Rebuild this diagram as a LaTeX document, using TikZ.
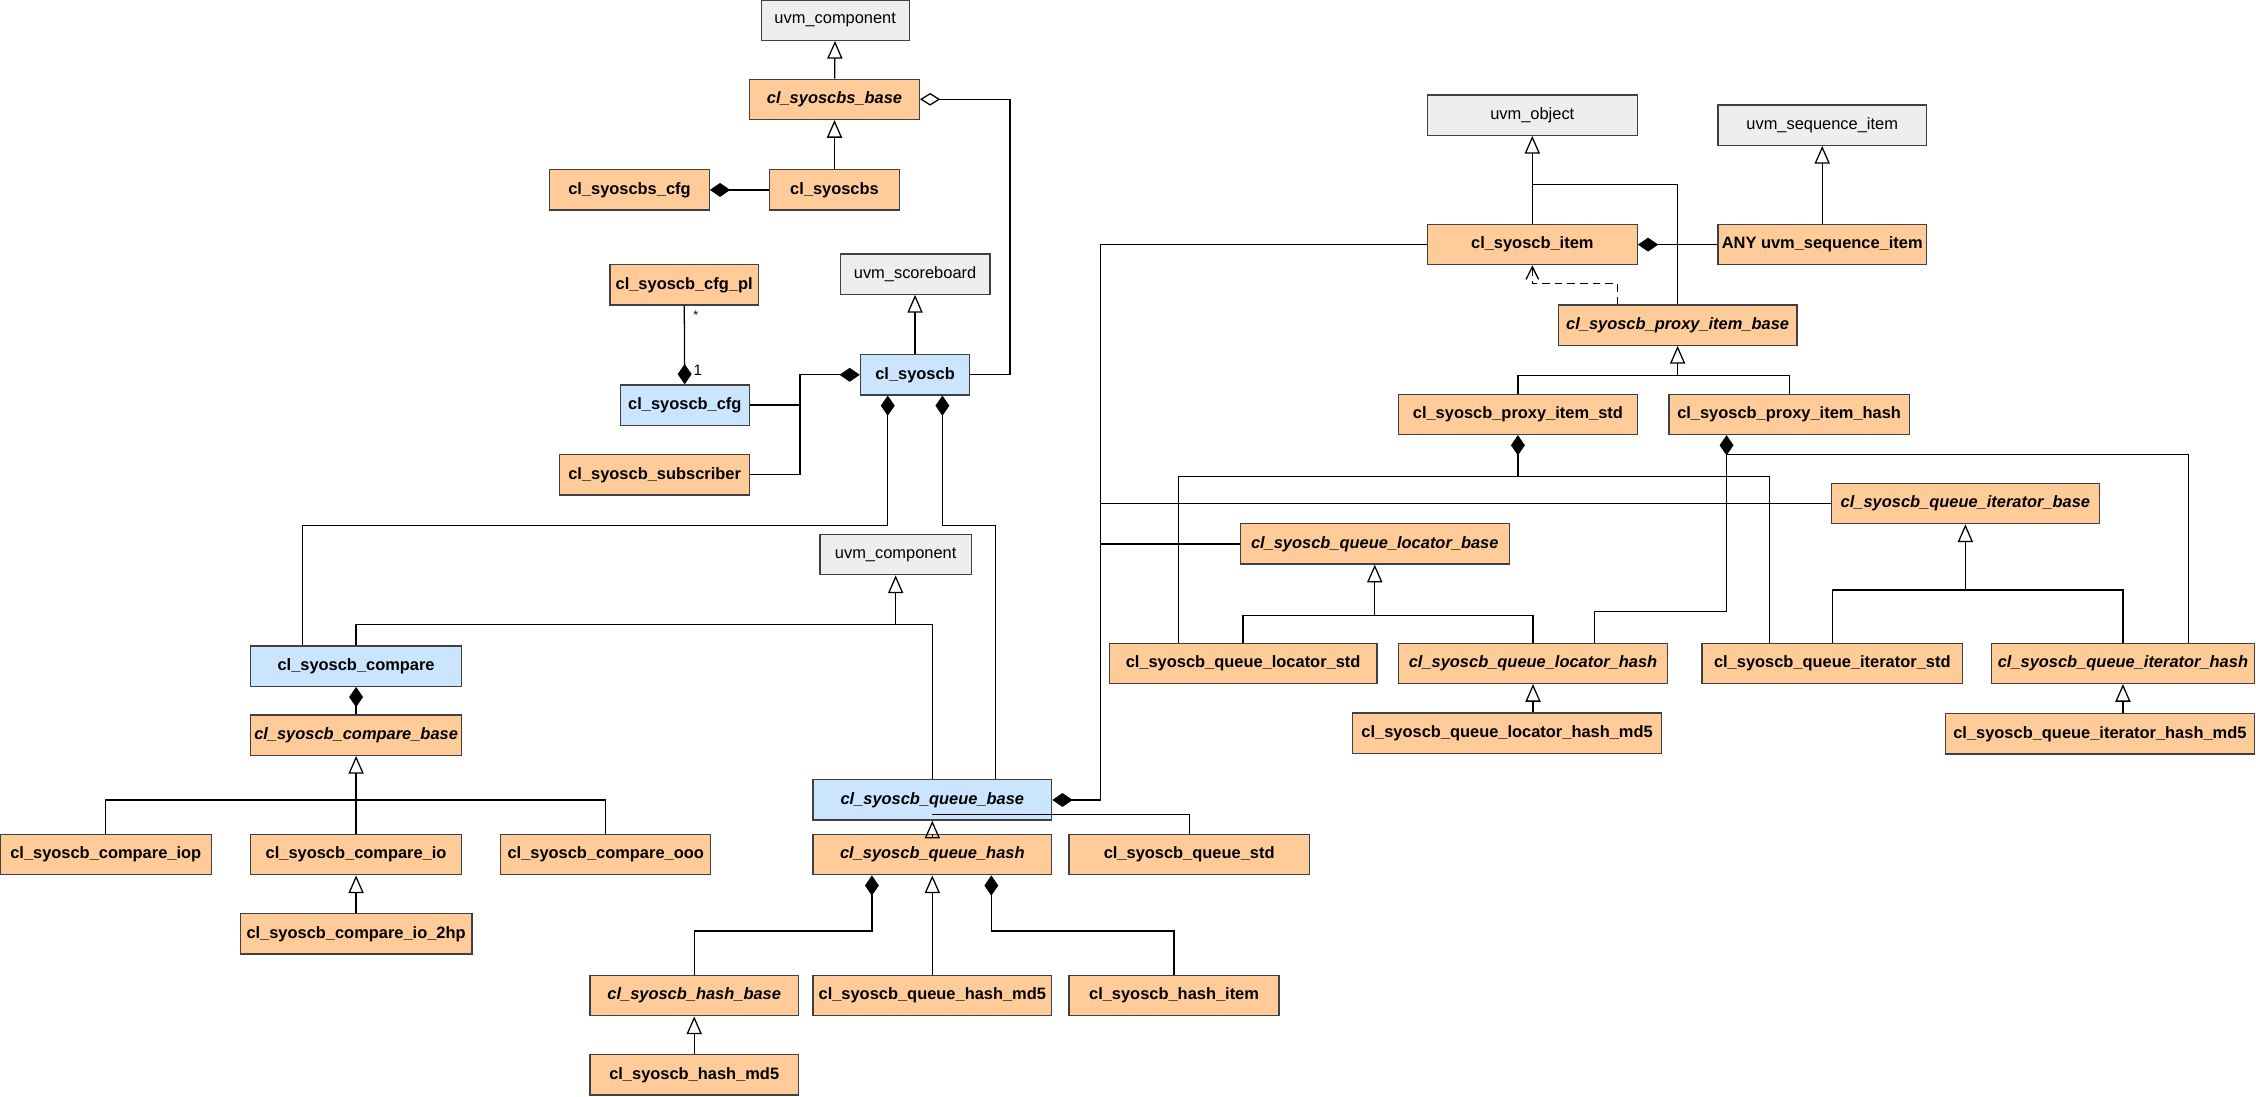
\documentclass[tikz,border=0pt]{standalone}
\usepackage{fontspec}
\setmainfont{Liberation Sans}
\usetikzlibrary{arrows.meta,calc}
\definecolor{clsorange}{HTML}{FFCC99}
\definecolor{clsblue}{HTML}{CCE5FF}
\definecolor{clsgray}{HTML}{EEEEEE}
\tikzset{
  cls/.style={draw=black!75, minimum height=0.56cm, inner sep=1pt,
    font=\fontsize{6.5pt}{8pt}\selectfont\bfseries},
  org/.style={cls, fill=clsorange},
  blu/.style={cls, fill=clsblue},
  gry/.style={cls, fill=clsgray, font=\fontsize{6.5pt}{8pt}\selectfont},
  abs/.style={font=\fontsize{6.5pt}{8pt}\selectfont\bfseries\itshape},
  inh/.style={-{Triangle[open,length=7pt,width=6pt]}},
  comp/.style={-{Diamond[length=8pt,width=5.5pt]}},
  agg/.style={-{Diamond[open,length=8pt,width=5pt]}},
  dep/.style={densely dashed,-{Straight Barb[length=5pt,width=5pt]}},
}
\begin{document}
\begin{tikzpicture}[x=0.02cm,y=-0.02cm,line width=0.5pt]
\useasboundingbox (0,0) rectangle (1568,762);

% scoreboard wrapper
\node[gry, minimum width=2.06cm] (ucomp) at (580.5,14) {uvm\_component};
\node[org, abs, minimum width=2.36cm] (sbase) at (580,69) {cl\_syoscbs\_base};
\node[org, minimum width=2.22cm] (scfg) at (437.5,132) {cl\_syoscbs\_cfg};
\node[org, minimum width=1.8cm] (sbs) at (580,132) {cl\_syoscbs};

% scoreboard
\node[org, minimum width=2.06cm] (cfgpl) at (475.5,198) {cl\_syoscb\_cfg\_pl};
\node[gry, minimum width=2.08cm] (uscb) at (636,190.5) {uvm\_scoreboard};
\node[blu, minimum width=1.8cm] (cfg) at (476,281.5) {cl\_syoscb\_cfg};
\node[blu, minimum width=1.52cm] (scb) at (636,260.5) {cl\_syoscb};
\node[org, minimum width=2.64cm] (subs) at (455,330) {cl\_syoscb\_subscriber};
\node[gry, minimum width=2.1cm] (ucomp2) at (622.5,385.5) {uvm\_component};

% compare
\node[blu, minimum width=2.94cm] (cmp) at (247.5,463) {cl\_syoscb\_compare};
\node[org, abs, minimum width=2.94cm] (cmpb) at (247.5,511) {cl\_syoscb\_compare\_base};
\node[org, minimum width=2.94cm] (iop) at (73.5,594) {cl\_syoscb\_compare\_iop};
\node[org, minimum width=2.94cm] (io) at (247.5,594) {cl\_syoscb\_compare\_io};
\node[org, minimum width=2.92cm] (ooo) at (421,594) {cl\_syoscb\_compare\_ooo};
\node[org, minimum width=3.22cm] (io2) at (247.5,649) {cl\_syoscb\_compare\_io\_2hp};

% queues
\node[blu, abs, minimum width=3.32cm] (qb) at (648,556) {cl\_syoscb\_queue\_base};
\node[org, abs, minimum width=3.32cm] (qh) at (648,594) {cl\_syoscb\_queue\_hash};
\node[org, minimum width=3.34cm] (qs) at (826.5,594) {cl\_syoscb\_queue\_std};
\node[org, abs, minimum width=2.9cm] (hb) at (482.5,692) {cl\_syoscb\_hash\_base};
\node[org, minimum width=3.32cm] (qhm) at (648,692) {cl\_syoscb\_queue\_hash\_md5};
\node[org, minimum width=2.92cm] (hi) at (816,692) {cl\_syoscb\_hash\_item};
\node[org, minimum width=2.9cm] (hm) at (482.5,747) {cl\_syoscb\_hash\_md5};

% items
\node[gry, minimum width=2.92cm] (uobj) at (1065,80) {uvm\_object};
\node[gry, minimum width=2.9cm] (useq) at (1266.5,87) {uvm\_sequence\_item};
\node[org, minimum width=2.92cm] (item) at (1065,170) {cl\_syoscb\_item};
\node[org, minimum width=2.9cm] (any) at (1266.5,170) {ANY uvm\_sequence\_item};
\node[org, abs, minimum width=3.32cm] (pib) at (1166,226) {cl\_syoscb\_proxy\_item\_base};
\node[org, minimum width=3.32cm] (pis) at (1055,288) {cl\_syoscb\_proxy\_item\_std};
\node[org, minimum width=3.34cm] (pih) at (1243.5,288) {cl\_syoscb\_proxy\_item\_hash};

% locators and iterators
\node[org, abs, minimum width=3.72cm] (qib) at (1366,350) {cl\_syoscb\_queue\_iterator\_base};
\node[org, abs, minimum width=3.74cm] (qlb) at (955.5,378) {cl\_syoscb\_queue\_locator\_base};
\node[org, minimum width=3.72cm] (qls) at (864,461) {cl\_syoscb\_queue\_locator\_std};
\node[org, abs, minimum width=3.74cm] (qlh) at (1065.5,461) {cl\_syoscb\_queue\_locator\_hash};
\node[org, minimum width=4.3cm] (qlhm) at (1047.5,509.5) {cl\_syoscb\_queue\_locator\_hash\_md5};
\node[org, minimum width=3.62cm] (qis) at (1273.5,461) {cl\_syoscb\_queue\_iterator\_std};
\node[org, abs, minimum width=3.66cm] (qih) at (1475.5,461) {cl\_syoscb\_queue\_iterator\_hash};
\node[org, minimum width=4.3cm] (qihm) at (1459.5,510) {cl\_syoscb\_queue\_iterator\_hash\_md5};

% junctions
\coordinate (a1) at (702,69);
\coordinate (b1) at (556,260.5);
\coordinate (c2) at (617,365);
\coordinate (c3) at (655,365);
\coordinate (t1) at (622.5,434);
\coordinate (t2) at (247.5,556);
\coordinate (t3) at (648,566);
\coordinate (d1) at (606,647);
\coordinate (d2) at (689,647);
\coordinate (e1) at (765,556);
\coordinate (f1) at (1065,128);
\coordinate (f2) at (1124,197);
\coordinate (t4) at (1166,261);
\coordinate (g1) at (1055,331);
\coordinate (h1) at (1200,425);
\coordinate (h2) at (1200,316);
\coordinate (t5) at (955.5,428);
\coordinate (t6) at (1366,410);

% connectors
\draw[inh] (sbase) -- (ucomp);
\draw[inh] (sbs) -- (sbase);
\draw[comp] (sbs) -- (scfg);
\draw[agg] (scb.east) -| (a1) -- (sbase.east);
\draw[comp] (cfgpl) -- (cfg)
  node[pos=0.12, right, font=\fontsize{5pt}{6pt}\selectfont] {*}
  node[pos=0.82, right, font=\fontsize{6pt}{7pt}\selectfont] {1};
\draw[inh] (scb) -- (uscb);
\draw[comp] (cfg.east) -| (b1) -- (scb.west);
\draw (subs.east) -| (b1);
\draw[comp] ([xshift=-.75cm]cmp.north) |- (c2) -- (c2 |- scb.south);
\draw[comp] ([xshift=.88cm]qb.north) |- (c3) -- (c3 |- scb.south);
\draw[inh] (cmp.north) |- (t1) -- (ucomp2);
\draw (qb.north) |- (t1);
\draw[comp] (cmpb) -- (cmp);
\draw[inh] (io) -- (cmpb);
\draw (iop.north) |- (t2) -| (ooo.north);
\draw[inh] (io2) -- (io);
\draw[inh] (qh) -- (qb);
\draw (qs.north) |- (t3);
\draw[inh] (qhm) -- (qh);
\draw[comp] (hb.north) |- (d1) -- (d1 |- qh.south);
\draw[comp] (hi.north) |- (d2) -- (d2 |- qh.south);
\draw[inh] (hm) -- (hb);
\draw[comp] (item.west) -| (e1) -- (qb.east);
\draw (qib.west) -| (e1);
\draw (qlb.west) -| (e1);
\draw[inh] (item) -- (uobj);
\draw (pib.north) |- (f1);
\draw[dep] ([xshift=-.84cm]pib.north) |- (f2) -| (item.south);
\draw[inh] (any) -- (useq);
\draw[comp] (any) -- (item);
\draw[inh] (pis.north) |- (t4) -- (pib);
\draw (pih.north) |- (t4);
\draw[comp] (g1) -- (pis.south);
\draw ([xshift=-.9cm]qls.north) |- (g1) -| ([xshift=-.87cm]qis.north);
\draw[comp] ([xshift=.85cm]qlh.north) |- (h1) -- (h1 |- pih.south);
\draw ([xshift=.91cm]qih.north) |- (h2);
\draw[inh] (qls.north) |- (t5) -- (qlb);
\draw (qlh.north) |- (t5);
\draw[inh] (qlh.south |- qlhm.north) -- (qlh.south);
\draw[inh] (qis.north) |- (t6) -- (qib);
\draw (qih.north) |- (t6);
\draw[inh] (qih.south |- qihm.north) -- (qih.south);
\end{tikzpicture}
\end{document}
